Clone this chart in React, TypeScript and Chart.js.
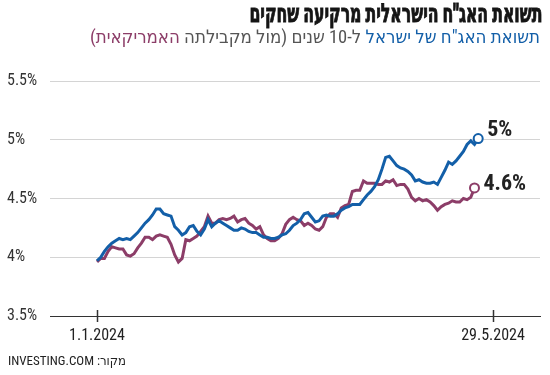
import React, { useEffect, useLayoutEffect, useRef } from "react";
import { Chart, registerables } from "chart.js";

Chart.register(...registerables);

// ---------- data ----------
const xTickIndex = [0, 107];
const xTickLabels = ["1.1.2024", "29.5.2024"];
const yTicks = [3.5, 4, 4.5, 5, 5.5];

const israel = [
  3.97, 4.0, 4.05, 4.09, 4.12, 4.14, 4.16, 4.15, 4.16, 4.15,
  4.18, 4.21, 4.25, 4.29, 4.32, 4.36, 4.41, 4.41, 4.37, 4.36,
  4.35, 4.26, 4.23, 4.19, 4.21, 4.26, 4.27, 4.22, 4.19, 4.24,
  4.32, 4.26, 4.29, 4.31, 4.29, 4.27, 4.25, 4.23, 4.23, 4.25,
  4.24, 4.22, 4.21, 4.21, 4.19, 4.17, 4.17, 4.16, 4.16, 4.17,
  4.19, 4.2, 4.23, 4.27, 4.29, 4.32, 4.37, 4.38, 4.34, 4.3,
  4.31, 4.35, 4.36, 4.35, 4.35, 4.37, 4.4, 4.42, 4.43, 4.45,
  4.45, 4.45, 4.49, 4.53, 4.56, 4.6, 4.66, 4.75, 4.85, 4.86,
  4.82, 4.78, 4.76, 4.75, 4.73, 4.7, 4.65, 4.66, 4.64, 4.63,
  4.63, 4.64, 4.62, 4.68, 4.74, 4.81, 4.79, 4.82, 4.86, 4.9,
  4.96, 4.99, 4.96, 5.01,
];

const usa = [
  3.96, 3.99, 3.99, 4.05, 4.09, 4.08, 4.07, 4.07, 4.02, 4.01,
  4.03, 4.08, 4.12, 4.17, 4.17, 4.15, 4.18, 4.19, 4.18, 4.17,
  4.11, 4.02, 3.96, 3.99, 4.15, 4.14, 4.16, 4.18, 4.22, 4.26,
  4.35, 4.29, 4.29, 4.32, 4.33, 4.32, 4.33, 4.35, 4.3, 4.32,
  4.33, 4.29, 4.27, 4.24, 4.26, 4.19, 4.16, 4.14, 4.14, 4.16,
  4.2, 4.28, 4.32, 4.34, 4.32, 4.31, 4.27, 4.29, 4.27, 4.24,
  4.23, 4.26, 4.34, 4.37, 4.37, 4.34, 4.42, 4.44, 4.45, 4.56,
  4.57, 4.57, 4.65, 4.63, 4.63, 4.63, 4.62, 4.62, 4.65, 4.64,
  4.66, 4.61, 4.62, 4.62, 4.58, 4.51, 4.48, 4.5, 4.48, 4.49,
  4.47, 4.44, 4.4, 4.43, 4.45, 4.46, 4.48, 4.47, 4.47, 4.5,
  4.49, 4.51, 4.59,
];

const seriesNames = ["ישראל", "ארה\"ב"];
const endLabels = ["5%", "4.6%"];

// ---------- styles ----------
const FONT = '"Roboto Condensed", "DejaVu Sans Condensed", "Liberation Sans", sans-serif';
const BLUE = "#135fa8";
const PURPLE = "#8c3d68";
const TEXT = "#222222";
const labelDy = [-8, -3];
const TITLE_WIDTH = 293;

const endLabelPlugin = {
  id: "endLabels",
  afterDatasetsDraw(chart: any) {
    const ctx = chart.ctx;
    ctx.save();
    ctx.font = `bold 22px ${FONT}`;
    ctx.fillStyle = TEXT;
    ctx.textAlign = "left";
    ctx.textBaseline = "middle";
    chart.data.datasets.forEach((ds: any, i: number) => {
      const meta = chart.getDatasetMeta(i);
      const last = meta.data[meta.data.length - 1];
      if (!last) return;
      ctx.fillText(endLabels[i], last.x + 9, last.y + labelDy[i]);
    });
    ctx.restore();
  },
};

const xTickMarkPlugin = {
  id: "xTickMarks",
  afterDraw(chart: any) {
    const ctx = chart.ctx;
    const xs = chart.scales.x;
    const y = chart.chartArea.bottom;
    ctx.save();
    ctx.strokeStyle = "#333";
    ctx.lineWidth = 1.5;
    xTickIndex.forEach((v) => {
      const px = Math.round(xs.getPixelForValue(v)) + 0.5;
      ctx.beginPath();
      ctx.moveTo(px, y - 6);
      ctx.lineTo(px, y + 6);
      ctx.stroke();
    });
    ctx.restore();
  },
};

export default function App() {
  const canvasRef = useRef<HTMLCanvasElement | null>(null);
  const titleRef = useRef<HTMLDivElement | null>(null);

  useLayoutEffect(() => {
    document.body.style.margin = "0";
    const t = titleRef.current;
    if (t) {
      const w = t.getBoundingClientRect().width;
      if (w > 0) t.style.transform = `scaleX(${TITLE_WIDTH / w})`;
    }
  }, []);

  useEffect(() => {
    const canvas = canvasRef.current;
    if (!canvas) return;
    const mk = (vals: number[]) => vals.map((v, i) => ({ x: i, y: v }));
    const chart = new Chart(canvas, {
      type: "line",
      data: {
        datasets: [
          {
            label: seriesNames[0],
            data: mk(israel),
            borderColor: BLUE,
            borderWidth: 3,
            tension: 0,
            pointRadius: (c: any) => (c.dataIndex === israel.length - 1 ? 4.5 : 0),
            pointBackgroundColor: "#ffffff",
            pointBorderColor: BLUE,
            pointBorderWidth: 2,
            pointHoverRadius: 0,
          },
          {
            label: seriesNames[1],
            data: mk(usa),
            borderColor: PURPLE,
            borderWidth: 3,
            tension: 0,
            pointRadius: (c: any) => (c.dataIndex === usa.length - 1 ? 4.5 : 0),
            pointBackgroundColor: "#ffffff",
            pointBorderColor: PURPLE,
            pointBorderWidth: 2,
            pointHoverRadius: 0,
          },
        ] as any,
      },
      options: {
        responsive: false,
        animation: false,
        events: [],
        layout: { padding: { left: 7, right: 10, top: 81, bottom: 29 } },
        plugins: {
          legend: { display: false },
          tooltip: { enabled: false },
          title: { display: false },
        },
        scales: {
          x: {
            type: "linear",
            min: -12.7,
            max: 119.7,
            afterBuildTicks: (s: any) => {
              s.ticks = xTickIndex.map((v) => ({ value: v }));
            },
            afterFit: (s: any) => {
              s.height = 30;
            },
            ticks: {
              autoSkip: false,
              maxRotation: 0,
              padding: 10,
              color: TEXT,
              font: { family: FONT, size: 16 },
              callback: (v: any) => {
                const idx = xTickIndex.indexOf(Number(v));
                return idx >= 0 ? xTickLabels[idx] : "";
              },
            },
            grid: { display: false, drawTicks: false },
            border: { display: true, color: "#333", width: 1 },
          },
          y: {
            min: 3.5,
            max: 5.5,
            afterBuildTicks: (s: any) => {
              s.ticks = yTicks.map((v) => ({ value: v }));
            },
            afterFit: (s: any) => {
              s.width = 43;
            },
            ticks: {
              crossAlign: "far",
              padding: 0,
              color: "#333",
              font: { family: FONT, size: 16 },
              callback: (v: any) => `${v}%`,
            },
            grid: { color: "#d4d4d4", lineWidth: 1, drawTicks: false },
            border: { display: false },
          },
        },
      } as any,
      plugins: [endLabelPlugin, xTickMarkPlugin],
    });
    return () => chart.destroy();
  }, []);

  return (
    <div style={{ position: "relative", width: 550, height: 375, overflow: "hidden", background: "#fff", fontFamily: FONT }}>
      <canvas ref={canvasRef} width={550} height={375} style={{ position: "absolute", left: 0, top: 0 }} />
      <div
        ref={titleRef}
        dir="rtl"
        style={{
          position: "absolute",
          right: 8,
          top: -3,
          fontSize: 26,
          fontWeight: 900,
          color: "#151515",
          whiteSpace: "nowrap",
          lineHeight: "32px",
          transformOrigin: "right center",
          WebkitTextStroke: "0.9px #151515",
        }}
      >
        תשואת האג"ח הישראלית מרקיעה שחקים
      </div>
      <div
        dir="rtl"
        style={{ position: "absolute", right: 10, top: 26, fontSize: 18.5, color: "#555", whiteSpace: "nowrap", lineHeight: "22px" }}
      >
        <span style={{ color: BLUE }}>תשואת האג"ח של ישראל</span> ל-10 שנים (מול מקבילתה <span style={{ color: PURPLE }}>האמריקאית)</span>
      </div>
      <div
        dir="rtl"
        style={{ position: "absolute", left: 8, top: 352, fontSize: 13, color: "#222", whiteSpace: "nowrap", lineHeight: "18px" }}
      >
        מקור: INVESTING.COM
      </div>
    </div>
  );
}
